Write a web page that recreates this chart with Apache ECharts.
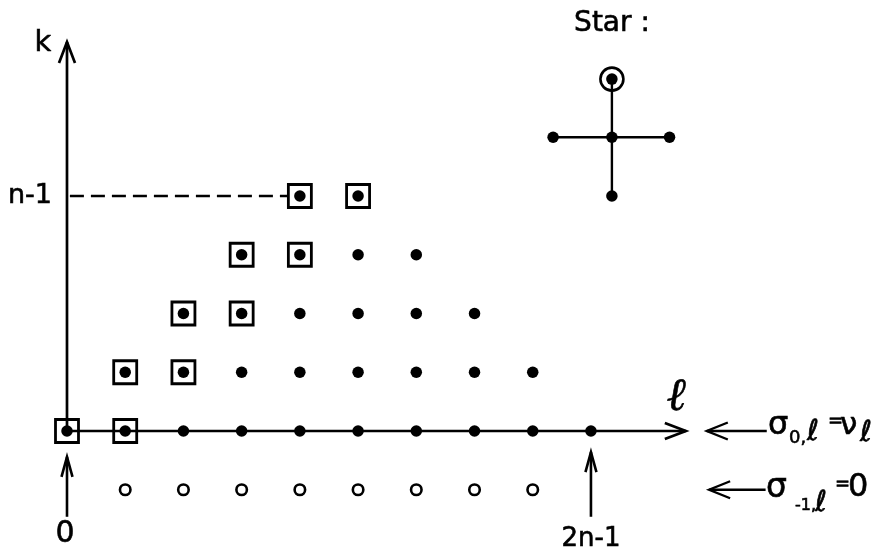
<!DOCTYPE html>
<html>
<head>
<meta charset="utf-8">
<script src="https://cdn.jsdelivr.net/npm/echarts@6/dist/echarts.min.js"></script>
<style>
  html, body { margin: 0; padding: 0; background: #fff; }
  #chart { width: 881px; height: 547px; }
</style>
</head>
<body>
<div id="chart"></div>
<script>
// ---- data (lattice coordinates: l horizontal, k vertical) ----
const filledDots = [
  [0,0],[1,0],[2,0],[3,0],[4,0],[5,0],[6,0],[7,0],[8,0],[9,0],
  [1,1],[2,1],[3,1],[4,1],[5,1],[6,1],[7,1],[8,1],
  [2,2],[3,2],[4,2],[5,2],[6,2],[7,2],
  [3,3],[4,3],[5,3],[6,3],
  [4,4],[5,4]
];
const boxedDots = [[0,0],[1,0],[1,1],[2,1],[2,2],[3,2],[3,3],[4,3],[4,4],[5,4]];
const openCircles = [[1,-1],[2,-1],[3,-1],[4,-1],[5,-1],[6,-1],[7,-1],[8,-1]];
const starNodes = [[9.36,5.99],[8.35,5],[9.36,5],[10.35,5],[9.36,4]];
const starRoot = [[9.36,5.99]];
const starEdges = [[[9.36,5.99],[9.36,4]], [[8.35,5],[10.35,5]]];
const dashedLine = [[0.05,4],[3.8,4]];
const axisArrows = [[0,0,0,6.62],[0,0,10.63,0]];
const upArrows = [[0,-1.46,0,-0.44],[9,-1.46,9,-0.36]];
const leftArrows = [[12.02,0,10.99,0],[12.0,-1.0,11.03,-1.0]];

const chart = echarts.init(document.getElementById('chart'), null, {renderer: 'canvas'});

function arrowSeries(name, segs, headLen, headHalf, width) {
  return {
    type: 'custom', name: name, clip: false, silent: true,
    data: segs,
    renderItem: function (params, api) {
      const p1 = api.coord([api.value(0), api.value(1)]);
      const p2 = api.coord([api.value(2), api.value(3)]);
      let dx = p2[0] - p1[0], dy = p2[1] - p1[1];
      const L = Math.sqrt(dx*dx + dy*dy) || 1; dx /= L; dy /= L;
      const nx = -dy, ny = dx;
      const bx = p2[0] - dx*headLen, by = p2[1] - dy*headLen;
      return {
        type: 'group',
        children: [
          {type: 'line', shape: {x1: p1[0], y1: p1[1], x2: p2[0], y2: p2[1]},
           style: {stroke: '#000', lineWidth: width}},
          {type: 'polyline', shape: {points: [[bx + nx*headHalf, by + ny*headHalf], [p2[0], p2[1]], [bx - nx*headHalf, by - ny*headHalf]]},
           style: {stroke: '#000', lineWidth: width, fill: null, lineJoin: 'miter'}}
        ]
      };
    }
  };
}

const FONT = '"DejaVu Sans", sans-serif';
function txt(text, x, y, size, align) {
  return {
    type: 'text', silent: true,
    style: {text: text, x: x, y: y, font: size + 'px ' + FONT, fill: '#000',
            stroke: '#000', lineWidth: 0.6,
            align: align || 'center', verticalAlign: 'middle'}
  };
}

const option = {
  animation: false,
  backgroundColor: '#fff',
  grid: {left: 8.78, right: 115.4, top: 19.75, bottom: 57.25, containLabel: false},
  xAxis: {type: 'value', min: -1, max: 12, show: false},
  yAxis: {type: 'value', min: -1, max: 7, show: false},
  series: [
    arrowSeries('axes', axisArrows, 21, 8, 2.7),
    arrowSeries('up', upArrows, 20, 5.5, 2.6),
    arrowSeries('left', leftArrows, 21, 8.5, 2.4),
    {type: 'line', data: dashedLine, clip: false, symbol: 'none', silent: true,
     lineStyle: {color: '#000', width: 2.6, type: [14, 7], opacity: 1}},
    {type: 'line', data: starEdges[0], clip: false, symbol: 'none', silent: true,
     lineStyle: {color: '#000', width: 2.4, opacity: 1}},
    {type: 'line', data: starEdges[1], clip: false, symbol: 'none', silent: true,
     lineStyle: {color: '#000', width: 2.4, opacity: 1}},
    {type: 'scatter', data: boxedDots, clip: false, symbol: 'rect', symbolSize: 23, silent: true,
     itemStyle: {color: 'rgba(255,255,255,0)', borderColor: '#000', borderWidth: 2.8, opacity: 1}},
    {type: 'scatter', data: openCircles, clip: false, symbol: 'circle', symbolSize: 10.5, silent: true,
     itemStyle: {color: '#fff', borderColor: '#000', borderWidth: 2.6, opacity: 1}},
    {type: 'scatter', data: filledDots, clip: false, symbol: 'circle', symbolSize: 11.5, silent: true,
     itemStyle: {color: '#000', opacity: 1}},
    {type: 'scatter', data: starNodes, clip: false, symbol: 'circle', symbolSize: 11.5, silent: true,
     itemStyle: {color: '#000', opacity: 1}},
    {type: 'scatter', data: starRoot, clip: false, symbol: 'circle', symbolSize: 23, silent: true,
     itemStyle: {color: 'rgba(255,255,255,0)', borderColor: '#000', borderWidth: 2.6, opacity: 1}}
  ],
  graphic: [
    txt('k', 43, 43, 29),
    txt('n-1', 30, 196, 27),
    txt('Star :', 612, 24, 28),
    txt('0', 65, 534, 30),
    txt('2n-1', 591, 539, 26),
    {type: 'text', silent: true,
     style: {text: 'ℓ', x: 676, y: 398, font: 'italic 46px "DejaVu Serif", serif', fill: '#000',
             stroke: '#000', lineWidth: 0.6, align: 'center', verticalAlign: 'middle'}},
    // sigma_{0,l} = nu_l
    txt('σ', 768, 426, 32, 'left'),
    txt('0,', 789, 438, 18, 'left'),
    txt('ℓ', 807, 432, 29, 'left'),
    txt('=', 828, 421, 18, 'left'),
    txt('ν', 840, 426, 31, 'left'),
    txt('ℓ', 860, 433, 29, 'left'),
    // sigma_{-1,l} = 0
    txt('σ', 766, 488, 33, 'left'),
    txt('-1,', 795, 506, 16, 'left'),
    txt('ℓ', 815, 503, 29, 'left'),
    txt('=', 835, 484, 18, 'left'),
    txt('0', 848, 488, 32, 'left')
  ]
};
chart.setOption(option);
</script>
</body>
</html>
